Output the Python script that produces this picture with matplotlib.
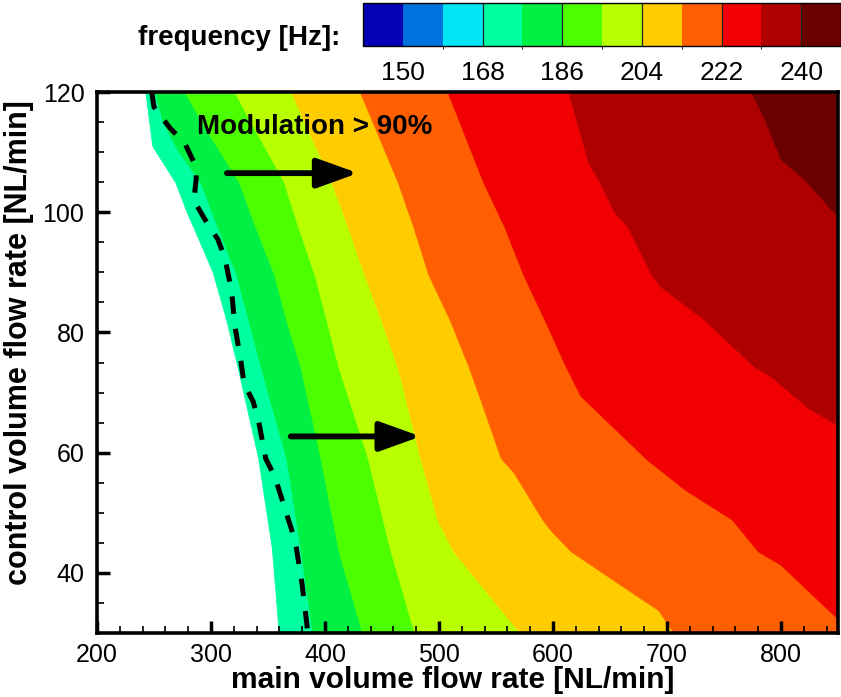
import numpy as np
import matplotlib
matplotlib.use("Agg")
import matplotlib.pyplot as plt
from matplotlib.colors import ListedColormap, BoundaryNorm
from matplotlib.cm import ScalarMappable
from matplotlib.ticker import MultipleLocator

plt.rcParams['font.family'] = ['Liberation Sans', 'DejaVu Sans']

# ---- colour scale (frequency, Hz) ----
cb_edges = [141, 150, 159, 168, 177, 186, 195, 204, 213, 222, 231, 240, 249]
cb_colors = ['#0600B4', '#0072DD', '#00E6F5', '#00FFA0', '#00F044', '#4CFF00',
             '#B8FF00', '#FFCC00', '#FF5F00', '#F00000', '#AF0000', '#6B0000']
cb_ticks = [150, 168, 186, 204, 222, 240]
cb_range = [145.2, 244.2]

# ---- contour boundaries: control flow (y) -> main flow (x) ----
b168_y = [120, 111, 105, 100, 97.5, 90, 82, 74.5, 59, 44, 30]
b168_x = [243, 249, 269, 279, 285, 302, 314, 323.5, 342, 354, 360]
b177_y = [120, 115, 110, 105, 97.5, 89.5, 74.5, 59, 44, 30]
b177_x = [251, 258, 272, 291, 306, 322.7, 343.5, 366.4, 378.9, 389.3]
b186_y = [120, 112.5, 105, 97.5, 89.5, 82, 74.2, 59, 43.5, 30]
b186_x = [277, 300, 324.8, 339.3, 356, 366.4, 378.9, 396.5, 412.5, 433]
b195_y = [120, 105, 97.5, 89.5, 82, 74.2, 59, 43.5, 30]
b195_x = [320.6, 364.3, 376.8, 391.3, 401.7, 412.1, 438, 458, 478.7]
b204_y = [120, 105, 97.5, 89.5, 82, 74.2, 59, 48.5, 43.5, 30]
b204_x = [370.5, 405.9, 420.5, 435, 449.6, 464.1, 484, 499.5, 513, 571]
b213_y = [120, 105, 97.5, 89.5, 82, 74.2, 67, 59, 56.6, 48.8, 46.8, 43.5, 33.7, 30]
b213_x = [430.9, 464.1, 477.9, 491.2, 509.9, 526.5, 540, 554.6, 566, 591, 599.3, 616, 692.9, 706]
b222_y = [120, 105, 97.5, 89.5, 82, 74.5, 69.4, 58.8, 53.8, 48.8, 43.5, 41.3, 32.9, 30]
b222_x = [507.8, 539, 557.7, 574.4, 593, 611, 624.3, 682.5, 715.8, 757.4, 780.3, 800, 846.8, 862]
b231_y = [120, 108.2, 105, 99.8, 97.5, 89.5, 87.5, 82, 74.2, 72.6, 67.4, 64.9, 60, 30]
b231_x = [613.9, 631.3, 641, 654.6, 665.9, 686.7, 695, 733.4, 777, 791.5, 824, 846.8, 880, 1000]
b240_y = [120, 115.3, 108.7, 105.3, 100, 95, 30]
b240_x = [774, 786, 800, 821, 846, 880, 1100]

# ---- "Modulation > 90%" limit (dashed) ----
dash_x = [248, 250, 264, 277, 287, 287, 285, 294, 306, 312, 318, 321, 326, 329, 337,
          342, 348, 356, 366, 371, 375, 380, 385]
dash_y = [120, 117.5, 114, 111.5, 107.5, 105.5, 102, 99, 95.5, 92.5, 87, 81, 75.5, 71.5,
          68.5, 65, 59, 56, 50, 47, 44, 38, 30]

# arrows (tail x, tip x, y)
arrow1 = (314, 429, 106.5)
arrow2 = (370, 484, 62.7)

levels = [168, 177, 186, 195, 204, 213, 222, 231, 240]
bounds = [(b168_y, b168_x), (b177_y, b177_x), (b186_y, b186_x), (b195_y, b195_x),
          (b204_y, b204_x), (b213_y, b213_x), (b222_y, b222_x), (b231_y, b231_x),
          (b240_y, b240_x)]

# build field whose iso-lines follow the boundaries
xg = np.linspace(200, 850, 1301)
yg = np.linspace(30, 120, 361)
Z = np.empty((yg.size, xg.size))
for i, yv in enumerate(yg):
    bx = []
    for ys, xs in bounds:
        ys_a = np.array(ys)[::-1]
        xs_a = np.array(xs)[::-1]
        bx.append(np.interp(yv, ys_a, xs_a))
    px = [0.0] + bx + [5000.0]
    pv = [150.0] + levels + [260.0]
    Z[i] = np.interp(xg, px, pv)

fig = plt.figure(figsize=(8.41, 6.97), dpi=100)
ax = fig.add_axes([97/841, 1-633/697, 741/841, 541/697])

fill_levels = levels + [260]
cs = ax.contourf(xg, yg, Z, levels=fill_levels, colors=cb_colors[3:], antialiased=True)
cs.set_edgecolor('face')
cs.set_linewidth(0.6)

ax.plot(dash_x, dash_y, color='black', lw=3.6, dashes=(3.5, 3), dash_capstyle='butt')

for (x0, x1, yy) in (arrow1, arrow2):
    ax.annotate('', xy=(x1, yy), xytext=(x0, yy),
                arrowprops=dict(arrowstyle='-|>,head_length=1.25,head_width=0.45',
                                lw=4.2, color='black', mutation_scale=20,
                                shrinkA=0, shrinkB=0))

ax.text(287.5, 113, 'Modulation > 90%', fontsize=20, fontweight='bold',
        ha='left', va='baseline')

ax.set_xlim(200, 850)
ax.set_ylim(30, 120)
ax.set_xticks([200, 300, 400, 500, 600, 700, 800])
ax.set_yticks([40, 60, 80, 100, 120])
ax.xaxis.set_minor_locator(MultipleLocator(20))
ax.yaxis.set_minor_locator(MultipleLocator(5))
ax.tick_params(which='major', direction='in', length=9, width=2.5, labelsize=18)
ax.tick_params(axis='x', which='major', pad=7)
ax.tick_params(axis='y', which='major', pad=9)
ax.tick_params(which='minor', direction='in', length=5, width=1.2)
for sp in ax.spines.values():
    sp.set_linewidth(2.6)

ax.set_xlabel('main volume flow rate [NL/min]', fontsize=21.5, fontweight='bold')
ax.set_ylabel('control volume flow rate [NL/min]', fontsize=22, fontweight='bold')
ax.xaxis.set_label_coords(0.48, -0.061)
ax.yaxis.set_label_coords(-0.085, 0.537)

# colour bar
cax = fig.add_axes([363/841, 1-45.7/697, (841-363)/841, 42.4/697])
cmap = ListedColormap(cb_colors)
norm = BoundaryNorm(cb_edges, cmap.N)
sm = ScalarMappable(norm=norm, cmap=cmap)
cb_b = [cb_range[0]] + list(range(150, 241, 9)) + [cb_range[1]]
cb_v = [(a + b) / 2 for a, b in zip(cb_b[:-1], cb_b[1:])]
cbar = fig.colorbar(sm, cax=cax, orientation='horizontal', boundaries=cb_b,
                    values=cb_v, ticks=cb_ticks)
cbar.outline.set_linewidth(1.0)
cax.tick_params(length=0, labelsize=19, pad=11)
for t in cb_ticks[1:]:
    cax.axvline(t, color='#222222', lw=0.9)

fig.text(340/841, 1-38/697, 'frequency [Hz]:', fontsize=20, fontweight='bold',
         ha='right', va='center')

fig.savefig('out.png', dpi=100)
